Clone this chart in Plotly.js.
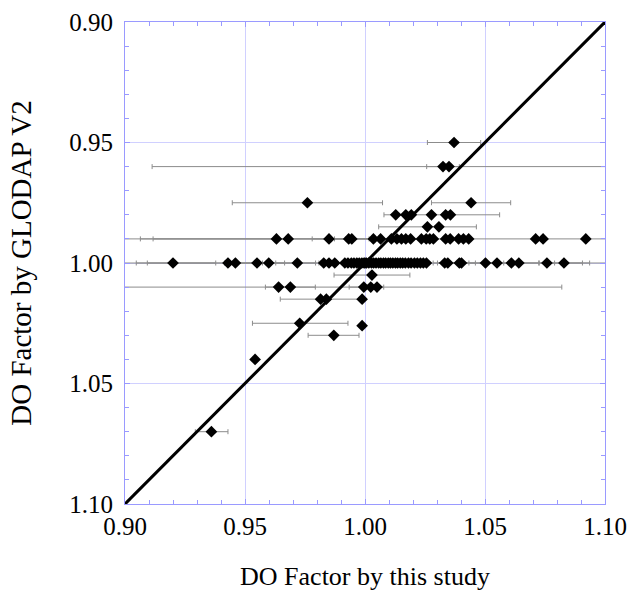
<!DOCTYPE html>
<html>
<head>
<meta charset="utf-8">
<script src="https://cdn.plot.ly/plotly-3.0.1.min.js"></script>
<style>html,body{margin:0;padding:0;background:#fff;}#chart{width:632px;height:594px;}</style>
</head>
<body>
<div id="chart"></div>
<script>
// DO factor by this study (x) vs DO factor by GLODAP V2 (y)
const studyFactor = [
  1.0371,
  1.0325, 1.035,
  0.976, 1.0442,
  1.0128, 1.017, 1.0193, 1.0277, 1.0336, 1.0356,
  1.026, 1.0308,
  0.9631, 0.968, 0.985, 0.9932, 0.9945, 1.0035, 1.0065, 1.011, 1.0133, 1.0152, 1.017, 1.019,
  1.0235, 1.0255, 1.027, 1.0285, 1.0336, 1.0355, 1.039, 1.041, 1.0432, 1.0711, 1.0742, 1.092,
  0.92, 0.9429, 0.946, 0.955, 0.9599, 0.9718, 0.9828, 0.985, 0.9874,
  0.9916, 0.9929, 0.9943, 0.9954, 0.9966, 0.9976, 0.9987, 0.9996, 1.0006, 1.0016, 1.0027, 1.0036,
  1.0046, 1.0057, 1.0066, 1.0077, 1.0086, 1.0097, 1.0106, 1.0116, 1.0127, 1.0136, 1.0147, 1.0157,
  1.0168, 1.0181, 1.0192, 1.0206, 1.0218, 1.0231, 1.0243, 1.0256,
  1.0332, 1.0345, 1.0393, 1.0402, 1.0502, 1.055, 1.061, 1.0641, 1.0758, 1.0829, 1.0,
  1.0029,
  0.964, 0.9689, 0.9995, 1.0024, 1.005,
  0.9815, 0.9839, 0.9988,
  0.9728,
  0.9988,
  0.987,
  0.9542,
  0.936
];
const glodapFactor = [
  0.95,
  0.96, 0.96,
  0.975, 0.975,
  0.98, 0.98, 0.98, 0.98, 0.98, 0.98,
  0.985, 0.985,
  0.99, 0.99, 0.99, 0.99, 0.99, 0.99, 0.99, 0.99, 0.99, 0.99, 0.99, 0.99,
  0.99, 0.99, 0.99, 0.99, 0.99, 0.99, 0.99, 0.99, 0.99, 0.99, 0.99, 0.99,
  1.0, 1.0, 1.0, 1.0, 1.0, 1.0, 1.0, 1.0, 1.0,
  1.0, 1.0, 1.0, 1.0, 1.0, 1.0, 1.0, 1.0, 1.0, 1.0, 1.0, 1.0,
  1.0, 1.0, 1.0, 1.0, 1.0, 1.0, 1.0, 1.0, 1.0, 1.0, 1.0, 1.0,
  1.0, 1.0, 1.0, 1.0, 1.0, 1.0, 1.0, 1.0,
  1.0, 1.0, 1.0, 1.0, 1.0, 1.0, 1.0, 1.0, 1.0, 1.0, 1.0,
  1.005,
  1.01, 1.01, 1.01, 1.01, 1.01,
  1.015, 1.015, 1.015,
  1.025,
  1.026,
  1.03,
  1.04,
  1.07
];
const errPlus = [
  0.0111,
  0.0068, 0.1237,
  0.0313, 0.0165,
  0, 0, 0, 0.0284, 0, 0,
  0.0204, 0,
  0.0567, 0.0563, 0.007, 0, 0.0072, 0, 0, 0.15, 0, 0, 0, 0,
  0, 0, 0, 0, 0, 0, 0, 0, 0, 0, 0, 0,
  0.0178, 0.0365, 0.0113, 0.0115, 0, 0.009, 0, 0.0035, 0,
  0, 0, 0, 0, 0, 0, 0, 0, 0, 0, 0, 0,
  0, 0, 0, 0, 0, 0, 0, 0, 0, 0, 0, 0,
  0, 0, 0, 0, 0, 0, 0, 0,
  0, 0, 0.004, 0.0058, 0.0076, 0, 0.0326, 0.0083, 0.0032, 0.0077, 0.15,
  0.0158,
  0.118, 0.0104, 0.0061, 0, 0.0028,
  0.018, 0, 0,
  0.0201,
  0,
  0.0105,
  0,
  0.0069
];
const errMinus = [
  0.0111,
  0.0068, 0.1237,
  0.0313, 0.0165,
  0, 0, 0, 0.0198, 0, 0,
  0.0203, 0,
  0.0567, 0.0563, 0.007, 0, 0.0072, 0, 0, 0.15, 0, 0, 0, 0,
  0, 0, 0, 0, 0, 0, 0, 0, 0, 0, 0, 0,
  0.0153, 0.0336, 0.0045, 0.0115, 0, 0.009, 0, 0.0035, 0,
  0, 0, 0, 0, 0, 0, 0, 0, 0, 0, 0, 0,
  0, 0, 0, 0, 0, 0, 0, 0, 0, 0, 0, 0,
  0, 0, 0, 0, 0, 0, 0, 0,
  0, 0, 0.004, 0.0058, 0.02, 0, 0.0326, 0.0083, 0.0032, 0.0077, 0.15,
  0.0158,
  0.118, 0.0104, 0.0061, 0, 0.0028,
  0.0168, 0, 0,
  0.0197,
  0,
  0.0107,
  0,
  0.0067
];
const oneToOneX = [0.90, 1.10];
const oneToOneY = [1.10, 0.90];
const majorTicks = [0.90, 0.95, 1.00, 1.05, 1.10];
const majorTickLabels = ['0.90', '0.95', '1.00', '1.05', '1.10'];

const fontFam = 'Liberation Serif';
const axisCol = '#9a9aff';
const gridCol = '#d0d0ff';

const traces = [
  {
    x: studyFactor, y: glodapFactor, type: 'scatter', mode: 'markers',
    marker: {symbol: 'diamond', size: 9, color: '#000'},
    error_x: {type: 'data', symmetric: false, array: errPlus, arrayminus: errMinus,
              color: '#8c8c8c', thickness: 1, width: 2.5},
    hoverinfo: 'x+y', showlegend: false, cliponaxis: true
  },
  {
    x: oneToOneX, y: oneToOneY, type: 'scatter', mode: 'lines',
    line: {color: '#000', width: 3}, showlegend: false, hoverinfo: 'skip'
  }
];

function axisCommon() {
  return {
    tickmode: 'array', tickvals: majorTicks, ticktext: majorTickLabels,
    ticks: 'inside', ticklen: 5, tickcolor: axisCol, tickwidth: 1,
    showline: true, linecolor: axisCol, linewidth: 1, mirror: 'ticks',
    showgrid: true, gridcolor: gridCol, gridwidth: 1, zeroline: false,
    tickfont: {family: fontFam, size: 25, color: '#000'},
    minor: {dtick: 0.01, tick0: 0.90, ticks: 'inside', ticklen: 4, tickcolor: axisCol, showgrid: false},
    fixedrange: true
  };
}

const layout = {
  width: 632, height: 594,
  margin: {l: 125, r: 27, t: 22, b: 90},
  font: {family: fontFam, size: 25, color: '#000'},
  paper_bgcolor: '#fff', plot_bgcolor: '#fff',
  xaxis: Object.assign(axisCommon(), {
    range: [0.90, 1.10],
    title: {text: 'DO Factor by this study', font: {family: fontFam, size: 26, color: '#000'}, standoff: 27}
  }),
  yaxis: Object.assign(axisCommon(), {
    range: [1.10, 0.90],
    ticklabelstandoff: 6,
    title: {text: 'DO Factor by GLODAP V2', font: {family: fontFam, size: 29, color: '#000'}, standoff: 29}
  }),
  showlegend: false
};

Plotly.newPlot('chart', traces, layout, {displayModeBar: false, staticPlot: true});
</script>
</body>
</html>
